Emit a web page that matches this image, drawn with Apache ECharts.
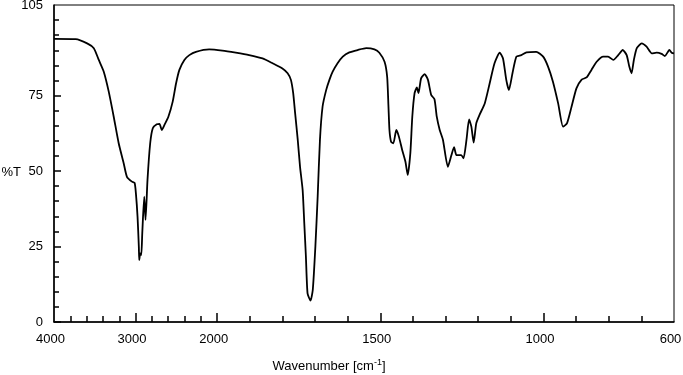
<!DOCTYPE html>
<html>
<head>
<meta charset="utf-8">
<script src="https://cdn.jsdelivr.net/npm/echarts@6/dist/echarts.min.js"></script>
<style>
html,body{margin:0;padding:0;background:#fff;}
#main{width:683px;height:375px;}
</style>
</head>
<body>
<div id="main"></div>
<script>
// wavenumber (cm-1) and %T
var wavenumbers = [4000,3735,3594,3512,3451,3390,3329,3268,3207,3146,3106,3045,3012,2996,2976,2960,2955,2943,2930,2918,2894,2878,2854,2821,2789,2740,2707,2679,2646,2598,2545,2504,2463,2402,2341,2260,2098,1984,1943,1902,1861,1830,1800,1784,1774,1767,1761,1753,1746,1738,1733,1728,1723,1714,1707,1699,1692,1685,1677,1666,1656,1646,1631,1615,1595,1569,1543,1518,1503,1487,1479,1475,1472,1467,1460,1451,1443,1433,1423,1416,1408,1402,1395,1388,1383,1375,1364,1354,1344,1334,1327,1318,1308,1293,1282,1274,1267,1259,1252,1245,1236,1228,1221,1214,1206,1196,1180,1165,1150,1134,1124,1114,1106,1095,1083,1068,1052,1022,1001,986,971,955,940,928,914,899,883,868,853,837,817,802,786,771,757,745,737,730,723,714,699,684,668,653,638,628,614,607,600];
var transmittance = [93.8,93.7,92.3,90.7,86.8,82.9,76.3,68,59.2,52.6,48.1,46.5,46.1,42.6,34.9,24.9,20.5,22.7,22.2,29.4,41.5,33.8,47,59.2,64.2,65.5,65.6,63.6,65.3,68,73,79,83.5,86.8,88.4,89.5,90.3,89.9,89.2,88.4,87.3,85.7,84,82.4,80.2,75.8,69.1,60.3,51.4,43.7,32.7,21.6,9.5,7.1,10.6,25,41.5,60.3,71.3,76.8,80.2,82.9,85.7,87.9,89.3,90.1,90.7,90.3,89.2,86.2,81.2,71.3,63.6,59.7,59.2,63.6,61.4,57,53.1,48.7,55.9,68,75.8,77.7,75.8,80.7,82.1,80.2,75.2,73.8,68,63.6,60.3,51.4,55.3,57.9,55.3,55.3,55.3,54.2,60.3,67.1,64.7,59.4,65.8,68.6,72.4,79,85.7,89.2,87.3,80.2,76.8,82.4,87.9,88.4,89.3,89.5,87.9,84.6,79.6,72.4,64.7,65.8,71.3,77.4,80.3,81,83.5,86.2,87.9,87.9,86.8,88.4,90.1,88.4,84.6,82.4,86.8,90.7,92.3,91.2,89,89.2,88.8,88.1,90.1,89.2,89];

var xLabels = [4000,3000,2000,1500,1000,600];
var xMajorTicks = [3000,2000,1500,1000];
var xMinorTicks = [3800,3600,3400,3200,2800,2600,2400,2200,1900,1800,1700,1600,1400,1300,1200,1100,900,800,700];
var yLabels = [0,25,50,75,105];
var yMajorTicks = [0,25,50,75];
var yMinorTicks = [5,10,15,20,30,35,40,45,55,60,65,70,80,85,90,95,100];

// scale changes at 2000 cm-1: region above is compressed 4x
function toAxis(w){ return w <= 2000 ? w : 2000 + (w - 2000) / 4; }
function fromAxis(u){ return u <= 2000 ? u : 2000 + (u - 2000) * 4; }

var chart = echarts.init(document.getElementById('main'));
var font = 'Liberation Sans, Arial, sans-serif';
var data = [];
for (var i = 0; i < wavenumbers.length; i++) {
	data.push([toAxis(wavenumbers[i]), transmittance[i]]);
}

var option = {
	animation: false,
	grid: {left: 54, right: 9, top: 5, bottom: 53, show: true, borderColor: '#000', borderWidth: 1,
		outerBoundsMode: 'none', containLabel: false},
	xAxis: [{
		type: 'value', min: 600, max: 2500, inverse: true, position: 'bottom',
		axisLine: {lineStyle: {color: '#000', width: 1.5}},
		axisTick: {inside: true, length: 9, lineStyle: {color: '#000', width: 1.5}, customValues: xMajorTicks.map(toAxis)},
		axisLabel: {color: '#000', fontSize: 13, fontFamily: font, margin: 11, padding: [0, 7, 0, 0],
			customValues: xLabels.map(toAxis),
			formatter: function(v){ return Math.round(fromAxis(v)); }},
		splitLine: {show: false},
		name: '{a|Wavenumber [cm}{b|-1}{a|]}', nameLocation: 'middle', nameGap: 36, nameMoveOverlap: false,
		nameTextStyle: {padding: [0, 70, 0, 0], rich: {
			a: {color: '#000', fontSize: 13, fontFamily: font},
			b: {color: '#000', fontSize: 9, fontFamily: font, padding: [0, 0, 8, 0]}
		}}
	}, {
		type: 'value', min: 600, max: 2500, inverse: true, position: 'bottom',
		axisLine: {show: false},
		axisTick: {inside: true, length: 6, lineStyle: {color: '#000', width: 1.5}, customValues: xMinorTicks.map(toAxis)},
		axisLabel: {show: false},
		splitLine: {show: false}
	}],
	yAxis: [{
		type: 'value', min: 0, max: 105, position: 'left',
		axisLine: {show: true, lineStyle: {color: '#000', width: 1.5}},
		axisTick: {show: true, inside: true, length: 7, lineStyle: {color: '#000', width: 1.5}, customValues: yMajorTicks},
		axisLabel: {color: '#000', fontSize: 13, fontFamily: font, margin: 11, customValues: yLabels},
		splitLine: {show: false},
		name: '%T', nameLocation: 'middle', nameRotate: 0, nameGap: 33, nameMoveOverlap: false,
		nameTextStyle: {color: '#000', fontSize: 13, fontFamily: font, align: 'right', verticalAlign: 'top', lineHeight: 17}
	}, {
		type: 'value', min: 0, max: 105, position: 'left',
		axisLine: {show: false},
		axisTick: {show: true, inside: true, length: 5, lineStyle: {color: '#000', width: 1.5}, customValues: yMinorTicks},
		axisLabel: {show: false},
		splitLine: {show: false}
	}],
	series: [{
		type: 'line', xAxisIndex: 0, yAxisIndex: 0, data: data,
		showSymbol: false, smooth: 0.2,
		lineStyle: {color: '#000', width: 1.8}
	}]
};
chart.setOption(option);
</script>
</body>
</html>
